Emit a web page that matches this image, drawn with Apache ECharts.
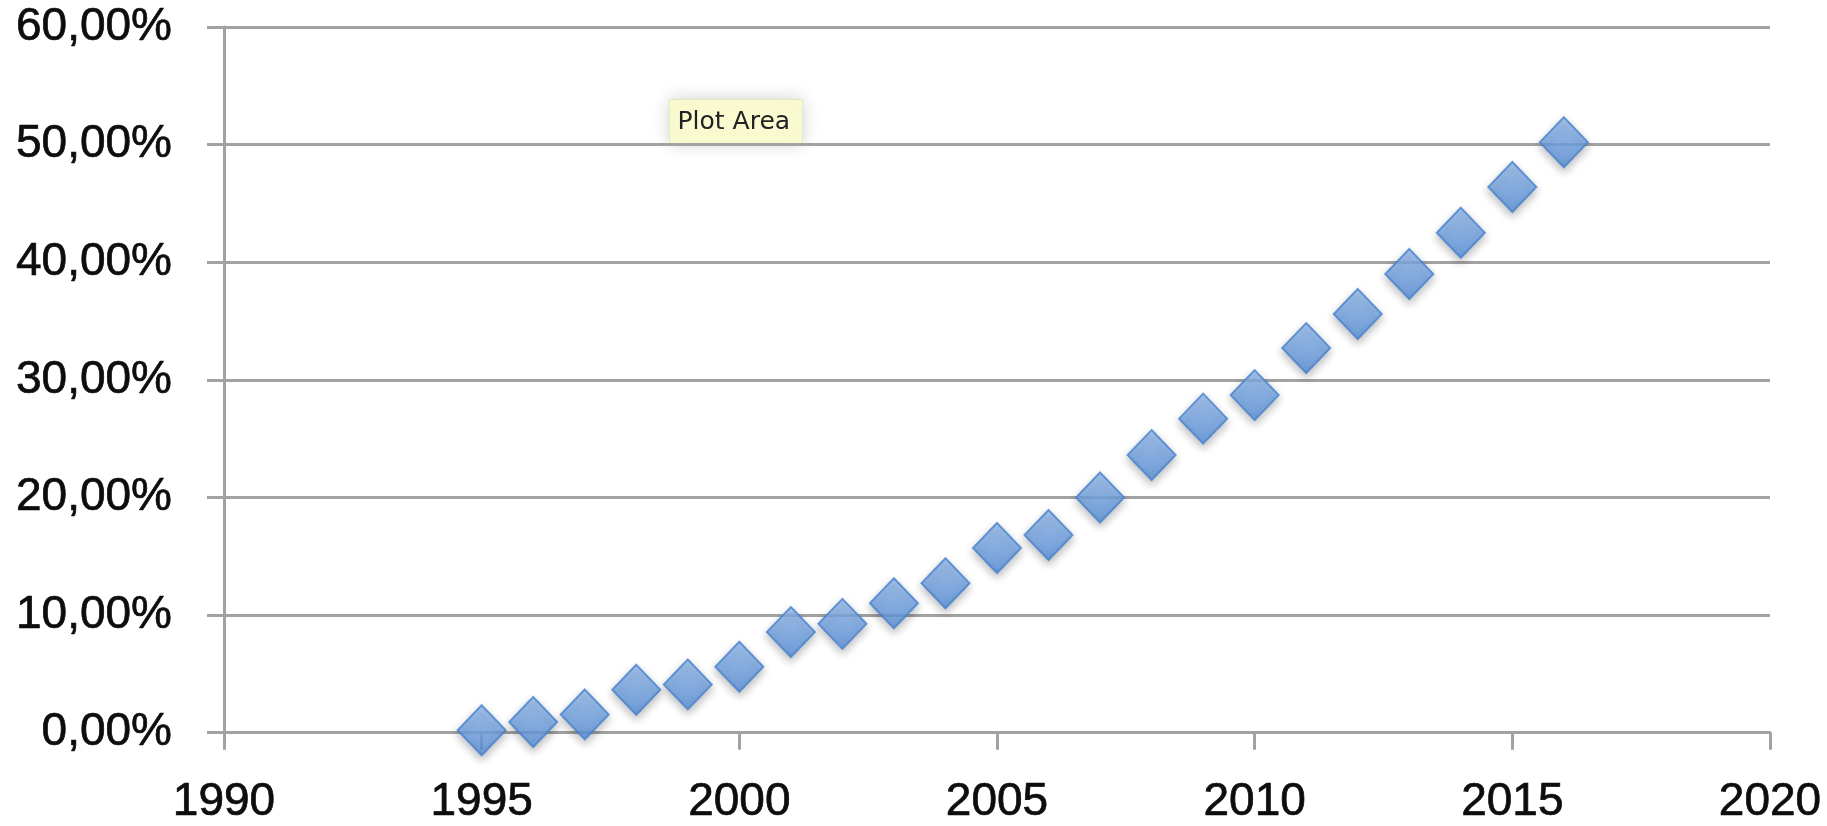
<!DOCTYPE html>
<html>
<head>
<meta charset="utf-8">
<script src="https://cdn.jsdelivr.net/npm/echarts@6/dist/echarts.min.js"></script>
<style>
  html, body { margin: 0; padding: 0; background: #ffffff; }
  #chart { width: 1827px; height: 826px; }
</style>
</head>
<body>
<div id="chart"></div>
<script>
// Yearly share, in percent
const years = [1995, 1996, 1997, 1998, 1999, 2000, 2001, 2002, 2003, 2004, 2005,
               2006, 2007, 2008, 2009, 2010, 2011, 2012, 2013, 2014, 2015, 2016];
const shares = [0.2, 0.9, 1.55, 3.65, 4.1, 5.6, 8.55, 9.25, 11.0, 12.7, 15.7,
                16.8, 20.0, 23.6, 26.7, 28.7, 32.7, 35.6, 39.0, 42.5, 46.4, 50.2];

// Axis ranges and tick steps
const xRange = [1990, 2020];
const xStep = 5;
const yRange = [0, 60];
const yStep = 10;

const hoverNote = 'Plot Area';

const points = years.map((y, i) => [y, shares[i]]);

const chart = echarts.init(document.getElementById('chart'), null, { renderer: 'canvas' });

const gridColor = '#a2a2a2';
const labelFont = {
  fontFamily: '"Liberation Sans", Arial, sans-serif',
  fontSize: 46,
  color: '#0d0d0d',
  textBorderColor: '#0d0d0d',
  textBorderWidth: 0.7
};

chart.setOption({
  animation: false,
  backgroundColor: '#ffffff',
  grid: { left: 224, right: 57, top: 27, bottom: 92, containLabel: false },
  xAxis: {
    type: 'value',
    min: xRange[0], max: xRange[1], interval: xStep,
    axisLine: { show: true, onZero: false, lineStyle: { color: gridColor, width: 3 } },
    axisTick: { show: true, inside: false, length: 17, lineStyle: { color: gridColor, width: 3 } },
    splitLine: { show: false },
    axisLabel: Object.assign({ margin: 47, formatter: v => String(v) }, labelFont)
  },
  yAxis: {
    type: 'value',
    min: yRange[0], max: yRange[1], interval: yStep,
    axisLine: { show: true, lineStyle: { color: gridColor, width: 3 } },
    axisTick: { show: true, inside: false, length: 17, lineStyle: { color: gridColor, width: 3 } },
    splitLine: { show: true, lineStyle: { color: gridColor, width: 3 } },
    axisLabel: Object.assign({
      margin: 52,
      formatter: v => v.toFixed(2).replace('.', ',') + '%'
    }, labelFont)
  },
  series: [{
    type: 'scatter',
    data: points,
    symbol: 'diamond',
    symbolSize: [48, 50],
    itemStyle: {
      color: new echarts.graphic.LinearGradient(0, 0, 0, 1, [
        { offset: 0, color: '#95bdf1' },
        { offset: 1, color: '#5690db' }
      ]),
      borderColor: '#4682cf',
      borderWidth: 2,
      shadowBlur: 8,
      shadowOffsetY: 4,
      shadowColor: 'rgba(0,0,0,0.3)'
    }
  }],
  graphic: [{
    type: 'group',
    left: 669,
    top: 99,
    children: [{
      type: 'rect',
      shape: { x: 0, y: 0, width: 133, height: 44 },
      style: {
        fill: '#fbfbd2',
        stroke: '#e6e6c0',
        lineWidth: 1,
        shadowBlur: 18,
        shadowColor: 'rgba(0,0,0,0.18)'
      }
    }, {
      type: 'text',
      x: 8,
      y: 23,
      style: {
        text: hoverNote,
        fontFamily: '"DejaVu Sans", Verdana, sans-serif',
        fontSize: 25,
        fill: '#222222',
        verticalAlign: 'middle'
      }
    }]
  }]
});
</script>
</body>
</html>
